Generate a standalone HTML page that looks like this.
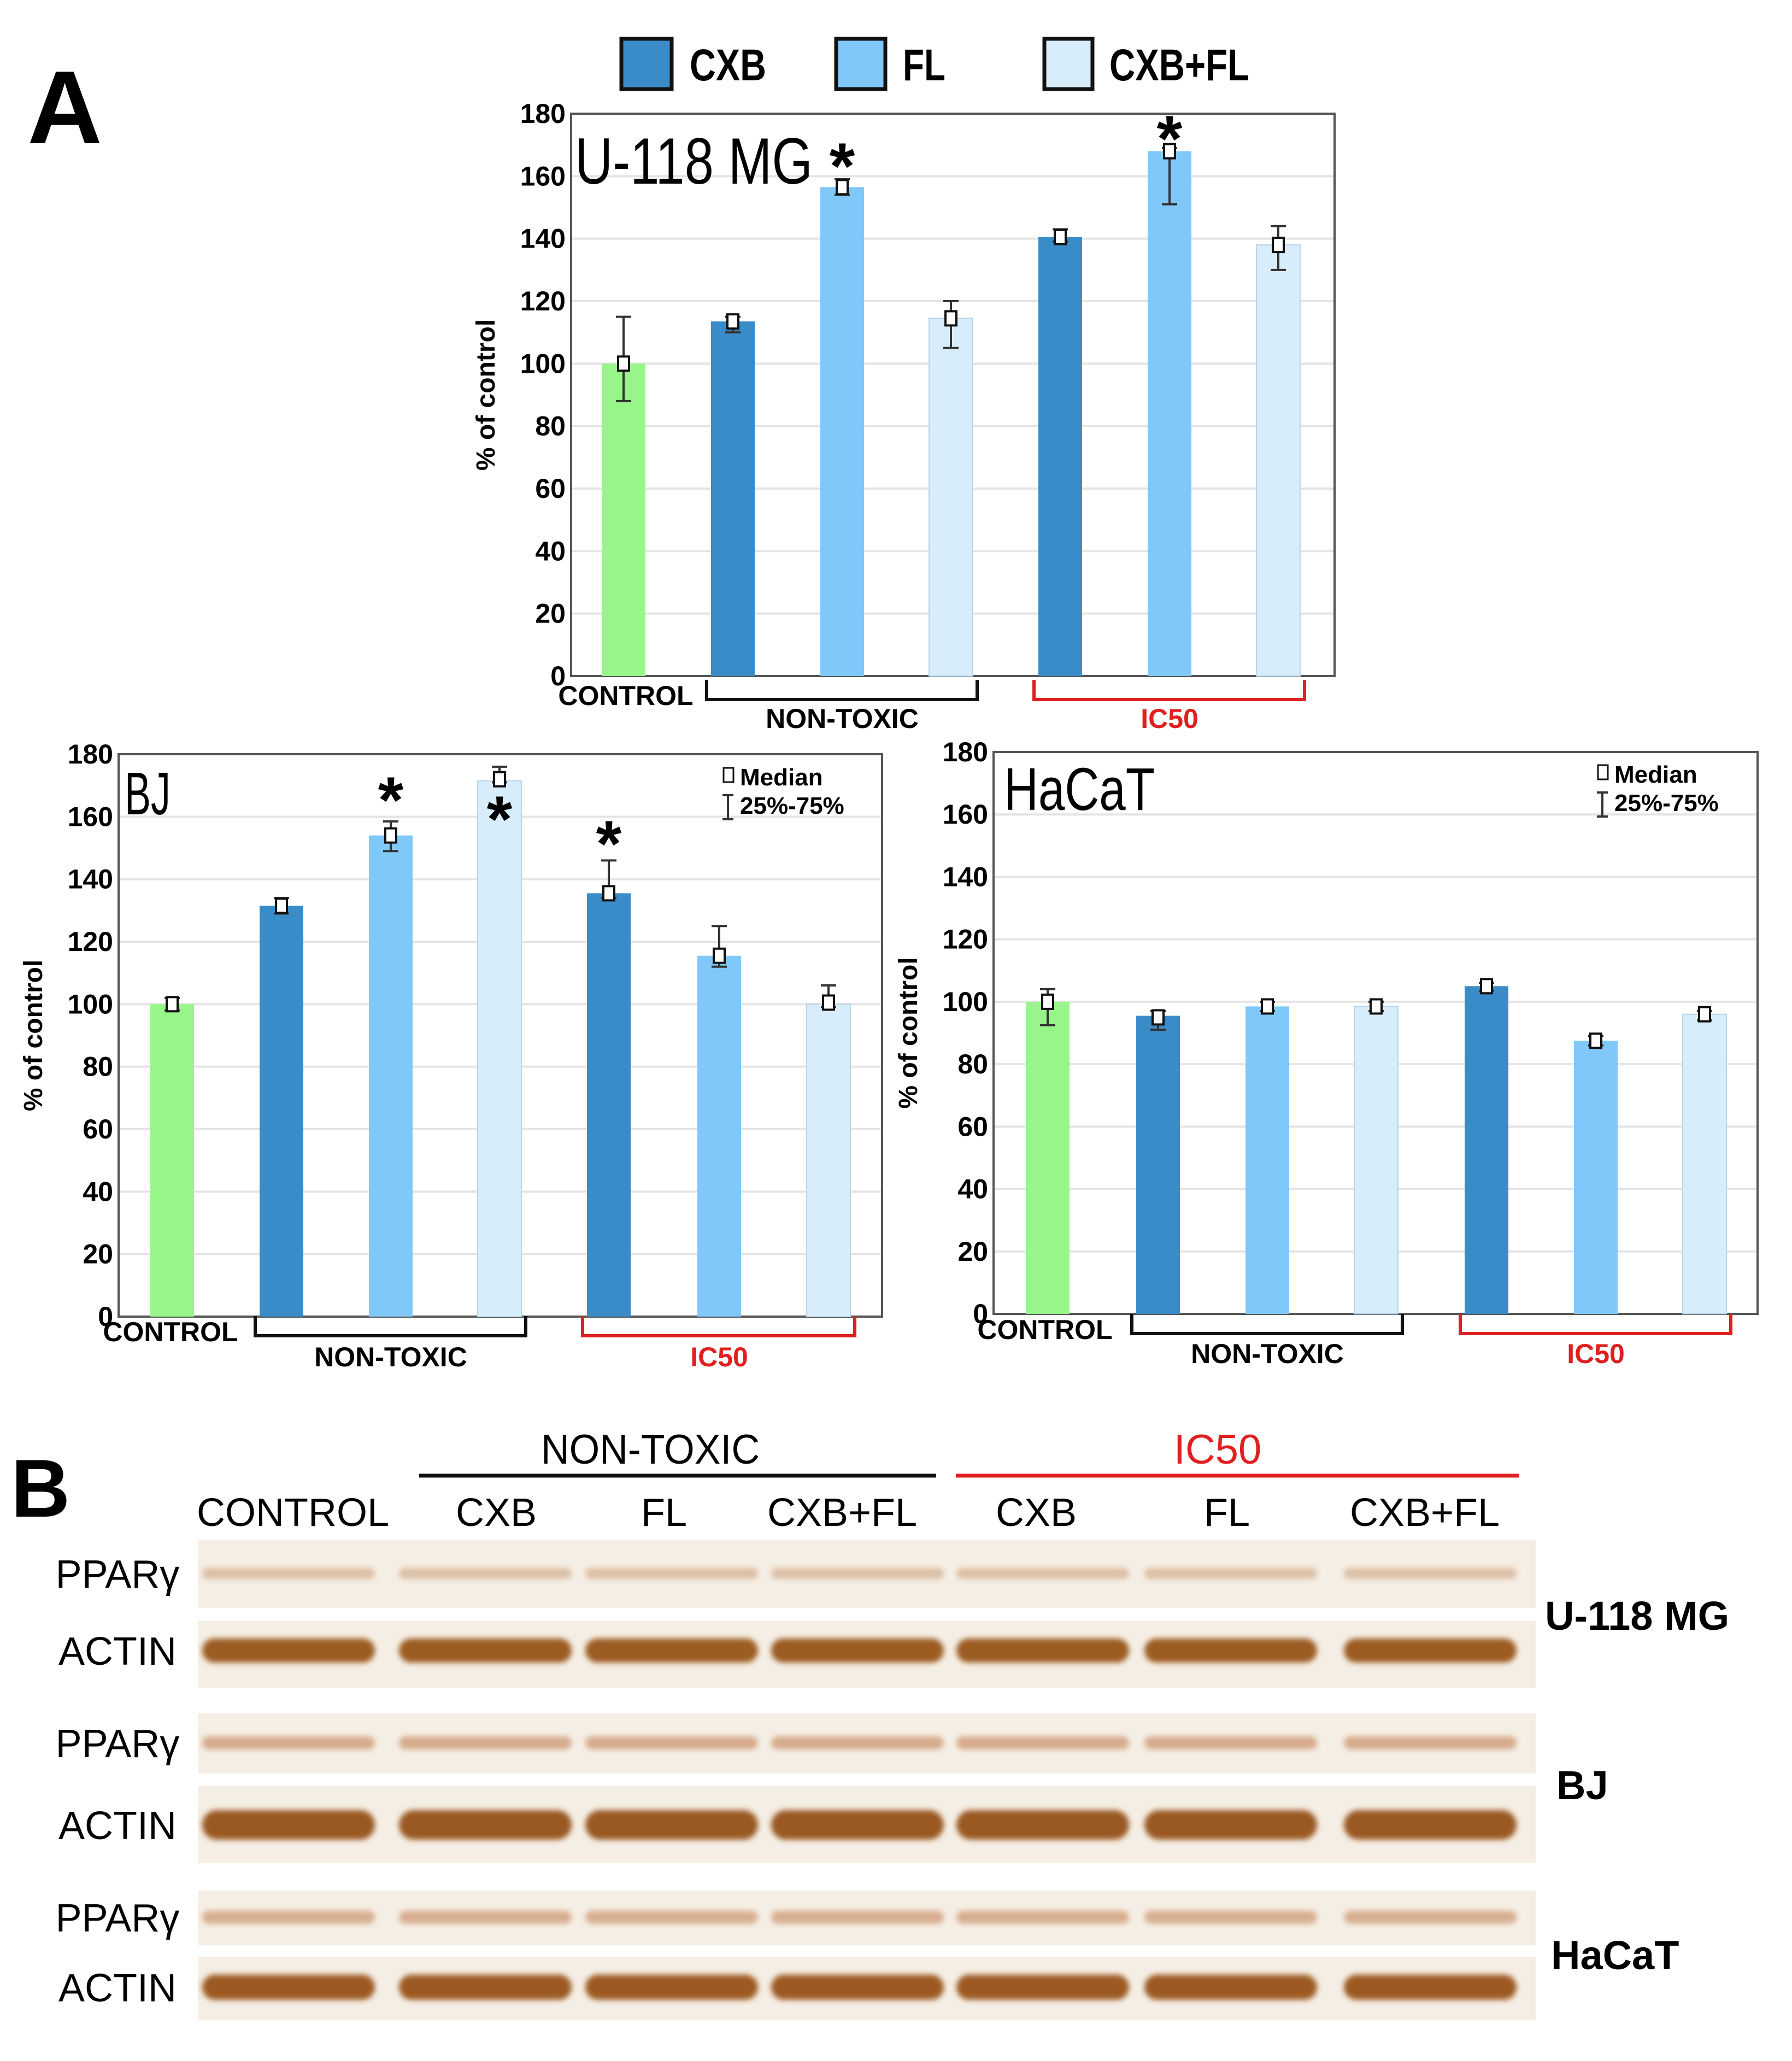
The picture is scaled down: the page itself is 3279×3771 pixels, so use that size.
<!DOCTYPE html>
<html><head><meta charset="utf-8">
<style>
html,body{margin:0;padding:0;background:#fff;}
svg{display:block;}
text{font-family:"Liberation Sans Narrow","Liberation Sans",sans-serif;}
</style></head>
<body>
<svg id="fig" width="3279" height="3771" viewBox="0 0 3279 3771" xmlns="http://www.w3.org/2000/svg">
<defs><filter id="soft" x="-10%" y="-100%" width="120%" height="300%"><feGaussianBlur stdDeviation="5"/></filter></defs>
<rect width="3279" height="3771" fill="#fff"/>
<text x="50" y="262" font-size="190" font-weight="bold" font-family="Liberation Sans">A</text>
<g>
 <g><rect x="1137" y="71" width="92" height="92" fill="#3a8cc8" stroke="#111" stroke-width="7"/><text x="1262" y="147" font-size="82" font-weight="bold" textLength="140" lengthAdjust="spacingAndGlyphs">CXB</text></g>
 <g><rect x="1530" y="71" width="90" height="92" fill="#80c8fa" stroke="#111" stroke-width="7"/><text x="1652" y="147" font-size="82" font-weight="bold" textLength="78" lengthAdjust="spacingAndGlyphs">FL</text></g>
 <g><rect x="1911" y="71" width="88" height="92" fill="#d8edfb" stroke="#111" stroke-width="7"/><text x="2030" y="147" font-size="82" font-weight="bold" textLength="256" lengthAdjust="spacingAndGlyphs">CXB+FL</text></g>
</g>
<g id="chartU"></g>
<g id="chartBJ"></g>
<g id="chartH"></g>
<g id="blots"></g>
</svg>
<script>
const categories = ["CONTROL","CXB","FL","CXB+FL","CXB","FL","CXB+FL"];
const yTicks = [0,20,40,60,80,100,120,140,160,180];
const barColors = ["#98f58a","#3a8cc8","#80c8fa","#d8edfb","#3a8cc8","#80c8fa","#d8edfb"];

const u118Values = [100,113.5,156.5,114.5,140.5,168,138];
const u118Median = [100,113.5,156.5,114.5,140.5,168,138];
const u118Low = [88,110,154,105,139,151,130];
const u118High = [115,115,159,120,143,169,144];
const u118Stars = [2,5];

const bjValues = [100,131.5,154,171.5,135.5,115.5,100];
const bjMedian = [100,131.5,154,172,135.5,115.5,100.5];
const bjLow = [98,129,149,171,134,112,99];
const bjHigh = [102,134,158.5,176,146,125,106];
const bjStars = [2,3,4];

const hacatValues = [100,95.5,98.5,98.5,105,87.5,96];
const hacatMedian = [100,95,98.5,98.5,105,87.5,96];
const hacatLow = [92.5,91,97,97,103.5,86,94];
const hacatHigh = [104,97,100,100,106,89,97];
const hacatStars = [];

const NS="http://www.w3.org/2000/svg";
function mk(parent,tag,attrs,txt){const e=document.createElementNS(NS,tag);for(const k in attrs)e.setAttribute(k,attrs[k]);if(txt!==undefined)e.textContent=txt;parent.appendChild(e);return e;}

function drawChart(g,cfg){
  const {x0,x1,y0,y1,centers,values,med,lo,hi,stars,title,titleX,titleY,titleSize,titleLen,legend,starPos,brY,textY,ctrlX}=cfg;
  const ys=v=>y0-(v/180)*(y0-y1);
  yTicks.forEach(t=>{
    if(t>0&&t<180){const l=mk(g,"line",{x1:x0,x2:x1,y1:ys(t),y2:ys(t),stroke:"#e4e4e4","stroke-width":4});
    
    }
    const tx=mk(g,"text",{x:x0-10,y:ys(t)+17,"font-size":50,"font-weight":"bold","text-anchor":"end"},String(t));
    
    
  });
  const fr=mk(g,"rect",{x:x0,y:y1,width:x1-x0,height:y0-y1,fill:"none",stroke:"#555","stroke-width":4});
  
  
  const yt=mk(g,"text",{transform:`translate(${x0-140},${(y0+y1)/2}) rotate(-90)`,"font-size":48,"font-weight":"bold","text-anchor":"middle","font-family":"Liberation Sans"},"% of control");
  
  
  const tt=mk(g,"text",{x:titleX,y:titleY,"font-size":titleSize,"font-family":"Liberation Sans",textLength:titleLen,lengthAdjust:"spacingAndGlyphs"},title);
  
  
  values.forEach((v,i)=>{
    const cx=centers[i];
    const b=mk(g,"rect",{x:cx-40,y:ys(v),width:80,height:y0-ys(v),fill:barColors[i],stroke:i==3||i==6?"#b8d4e8":"none","stroke-width":2});
    
    
    const eb=mk(g,"path",{d:`M${cx} ${ys(hi[i])}V${ys(lo[i])}M${cx-14} ${ys(hi[i])}H${cx+14}M${cx-14} ${ys(lo[i])}H${cx+14}`,stroke:"#333","stroke-width":4,fill:"none"});
    
    
    const m=mk(g,"rect",{x:cx-10,y:ys(med[i])-13,width:20,height:26,fill:"#fff",stroke:"#111","stroke-width":4});
    
    
  });
  stars.forEach((i,k)=>{
    const s=mk(g,"text",{x:centers[i],y:starPos[k],"font-size":120,"font-weight":"bold","text-anchor":"middle","font-family":"Liberation Sans"},"*");
    
    
  });
  if(legend){
    const lg=mk(g,"g",{});
    
    
    mk(lg,"rect",{x:legend[0]-8,y:legend[1]-32,width:18,height:26,fill:"#fff",stroke:"#111","stroke-width":3});
    mk(lg,"text",{x:legend[0]+22,y:legend[1],"font-size":44,"font-weight":"bold"},"Median");
    mk(lg,"path",{d:`M${legend[0]} ${legend[1]+18}V${legend[1]+62}M${legend[0]-10} ${legend[1]+18}H${legend[0]+10}M${legend[0]-10} ${legend[1]+62}H${legend[0]+10}`,stroke:"#333","stroke-width":4});
    mk(lg,"text",{x:legend[0]+22,y:legend[1]+52,"font-size":44,"font-weight":"bold"},"25%-75%");
  }
  const c=mk(g,"text",{x:ctrlX,y:brY+38,"font-size":50,"font-weight":"bold","text-anchor":"middle"},"CONTROL");
  
  
  const a1=centers[1]-48,a2=centers[3]+48,b1=centers[4]-48,b2=centers[6]+48;
  const br1=mk(g,"path",{d:`M${a1} ${brY-8}V${brY+28}H${a2}V${brY-8}`,stroke:"#111","stroke-width":6,fill:"none"});
  
  
  const br2=mk(g,"path",{d:`M${b1} ${brY-8}V${brY+28}H${b2}V${brY-8}`,stroke:"#e02020","stroke-width":6,fill:"none"});
  
  
  const n=mk(g,"text",{x:centers[2],y:textY,"font-size":50,"font-weight":"bold","text-anchor":"middle"},"NON-TOXIC");
  
  
  const ic=mk(g,"text",{x:centers[5],y:textY,"font-size":50,"font-weight":"bold","text-anchor":"middle",fill:"#e02020"},"IC50");
  
  
}

drawChart(document.getElementById('chartU'),{x0:1045,x1:2442,y0:1237,y1:208,centers:[1141,1341,1541,1740,1940,2140,2339],
 values:u118Values,med:u118Median,lo:u118Low,hi:u118High,stars:u118Stars,starPos:[345,295],
 title:"U-118 MG",titleX:1052,titleY:336,titleSize:120,titleLen:435,legend:null,brY:1252,textY:1332,ctrlX:1145});
drawChart(document.getElementById('chartBJ'),{x0:217,x1:1614,y0:2409,y1:1380,centers:[315,515,715,914,1114,1316,1516],
 values:bjValues,med:bjMedian,lo:bjLow,hi:bjHigh,stars:bjStars,starPos:[1505,1540,1585],
 title:"BJ",titleX:228,titleY:1490,titleSize:110,titleLen:84,legend:[1332,1437],brY:2416,textY:2500,ctrlX:312});
drawChart(document.getElementById('chartH'),{x0:1818,x1:3216,y0:2404,y1:1376,centers:[1917,2119,2319,2518,2720,2920,3119],
 values:hacatValues,med:hacatMedian,lo:hacatLow,hi:hacatHigh,stars:hacatStars,starPos:[],
 title:"HaCaT",titleX:1837,titleY:1482,titleSize:110,titleLen:276,legend:[2932,1432],brY:2412,textY:2494,ctrlX:1912});

// Panel B
const laneNames = ["CONTROL","CXB","FL","CXB+FL","CXB","FL","CXB+FL"];
const laneX = [536,908,1215,1541,1896,2245,2607];
const bandX = [528,888,1229,1569,1908,2252,2617];
const g=document.getElementById('blots');
const bl=mk(g,"text",{x:20,y:2775,"font-size":150,"font-weight":"bold","font-family":"Liberation Sans"},"B");


const nt=mk(g,"text",{x:1190,y:2678,"font-size":76,"text-anchor":"middle",textLength:400,lengthAdjust:"spacingAndGlyphs"},"NON-TOXIC");


mk(g,"line",{x1:767,x2:1713,y1:2700,y2:2700,stroke:"#111","stroke-width":7});
const ich=mk(g,"text",{x:2228,y:2678,"font-size":76,"text-anchor":"middle",fill:"#e02020"},"IC50");


mk(g,"line",{x1:1749,x2:2779,y1:2700,y2:2700,stroke:"#e02020","stroke-width":7});
laneNames.forEach((n,i)=>{
  const t=mk(g,"text",{x:laneX[i],y:2792,"font-size":72,"text-anchor":"middle"},n);
  
  
});
const strips=[
 {y:2818,h:124,band:2879,bh:20,col:"#dcbfa5",lab:"PPARγ"},
 {y:2966,h:123,band:3020,bh:44,col:"#9c5c22",lab:"ACTIN"},
 {y:3135,h:110,band:3189,bh:24,col:"#d6ab8c",lab:"PPARγ"},
 {y:3268,h:141,band:3339,bh:54,col:"#9a5820",lab:"ACTIN"},
 {y:3459,h:100,band:3508,bh:24,col:"#d8ae90",lab:"PPARγ"},
 {y:3581,h:115,band:3636,bh:46,col:"#9c5a22",lab:"ACTIN"}];
strips.forEach(s=>{
  const r=mk(g,"rect",{x:362,y:s.y,width:2448,height:s.h,fill:"#f5eee4"});
  
  
  bandX.forEach(x=>{
    const b=mk(g,"rect",{x:x-158,y:s.band-s.bh/2,width:316,height:s.bh,rx:s.bh/2,fill:s.col,filter:"url(#soft)"});
    
    
  });
  const l=mk(g,"text",{x:215,y:s.band+26,"font-size":72,"text-anchor":"middle"},s.lab);
  
  
});
[["U-118 MG",2827,2982],["BJ",2848,3292],["HaCaT",2838,3603]].forEach(a=>{
  const t=mk(g,"text",{x:a[1],y:a[2],"font-size":74,"font-weight":"bold"},a[0]);
  
  
});
</script>
</body></html>
